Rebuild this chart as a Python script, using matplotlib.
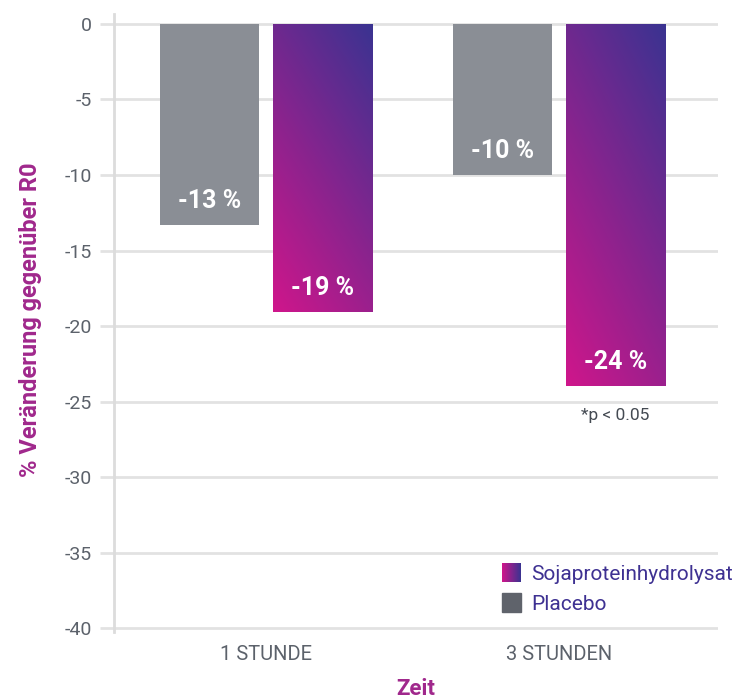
import numpy as np
import matplotlib
matplotlib.use("Agg")
import matplotlib.pyplot as plt
from matplotlib.colors import LinearSegmentedColormap
from matplotlib.patches import Rectangle

# Daten
zeitpunkte = ["1 STUNDE", "3 STUNDEN"]
placebo = [-13.3, -10.0]
soja = [-19.1, -24.0]
placebo_labels = ["-13 %", "-10 %"]
soja_labels = ["-19 %", "-24 %"]
yticks = [0, -5, -10, -15, -20, -25, -30, -35, -40]

plt.rcParams['font.family'] = ['Roboto', 'DejaVu Sans']

PINK = "#cf168b"
INDIGO = "#3a3391"
GRAU = "#8a8e95"
GRAU_DUNKEL = "#5f636b"
TEXT_GRAU = "#5c626b"
LILA = "#a0288c"
LEG_TEXT = "#3e3192"

cmap = LinearSegmentedColormap.from_list("soja", [PINK, INDIGO])

fig = plt.figure(figsize=(7.54, 7.0), dpi=100)
ax = fig.add_axes([114 / 754, 1 - 632 / 700, 604 / 754, 618 / 700])

x = np.arange(len(zeitpunkte))
w = 0.338
off = 0.193

ax.bar(x - off, placebo, width=w, color=GRAU, zorder=3)
bars = ax.bar(x + off, soja, width=w, color="none", zorder=3)

# Verlauf: unten links pink, oben rechts indigo
uu, vv = np.meshgrid(np.linspace(0, 1, 60), np.linspace(0, 1, 200))
grad = 0.35 * uu + 0.65 * vv
for b in bars:
    x0, y0 = b.get_x(), b.get_y()
    bw, bh = b.get_width(), b.get_height()
    im = ax.imshow(grad, cmap=cmap, origin="lower", aspect="auto",
                   extent=[x0, x0 + bw, min(y0, y0 + bh), max(y0, y0 + bh)],
                   zorder=3, interpolation="bilinear", vmin=0, vmax=1)
    im.set_clip_path(b)

for i in range(len(x)):
    ax.text(x[i] - off, placebo[i] + 1.6, placebo_labels[i], ha="center", va="center",
            color="white", fontsize=18, fontweight="bold", zorder=4)
    ax.text(x[i] + off, soja[i] + 1.6, soja_labels[i], ha="center", va="center",
            color="white", fontsize=18, fontweight="bold", zorder=4)

ax.text(x[1] + off, -25.9, "*p < 0.05", ha="center", va="center",
        color="#444a52", fontsize=12.5)

ax.set_xlim(-0.519, 1.543)
ax.set_ylim(-40.26, 0.66)
ax.set_yticks(yticks)
ax.set_yticklabels([str(v) for v in yticks])
ax.set_xticks(x)
ax.set_xticklabels(zeitpunkte)
ax.yaxis.grid(True, color="#e2e2e2", linewidth=2, zorder=0)
ax.set_axisbelow(True)

for s in ["top", "right", "bottom"]:
    ax.spines[s].set_visible(False)
ax.spines["left"].set_color("#dcdcdc")
ax.spines["left"].set_linewidth(2)

ax.tick_params(axis="y", length=10, width=2, color="#e2e2e2", labelsize=14,
               labelcolor=TEXT_GRAU, pad=6)
ax.tick_params(axis="x", length=0, labelsize=14.5, labelcolor=TEXT_GRAU, pad=9)

fig.text(31 / 754, 1 - 320 / 700, "% Veränderung gegenüber R0", rotation=90,
         ha="center", va="center", color=LILA, fontsize=17, fontweight="bold")
fig.text(416 / 754, 1 - 689 / 700, "Zeit", ha="center", va="center",
         color=LILA, fontsize=16, fontweight="bold")

# Legende
lx, ly1, ly2, lsz = 502 / 754, 1 - 582 / 700, 1 - 612 / 700, 19
leg_ax = fig.add_axes([lx, ly1, lsz / 754, lsz / 700])
leg_ax.imshow(np.linspace(0, 1, 50)[None, :], cmap=cmap, aspect="auto")
leg_ax.axis("off")
fig.patches.append(Rectangle((lx, ly2), lsz / 754, lsz / 700, color=GRAU_DUNKEL,
                             transform=fig.transFigure, figure=fig))
fig.text(531 / 754, 1 - 574 / 700, "Sojaproteinhydrolysat", ha="left", va="center",
         color=LEG_TEXT, fontsize=15)
fig.text(531 / 754, 1 - 605 / 700, "Placebo", ha="left", va="center",
         color=LEG_TEXT, fontsize=15)

fig.savefig("out.png", dpi=100)
